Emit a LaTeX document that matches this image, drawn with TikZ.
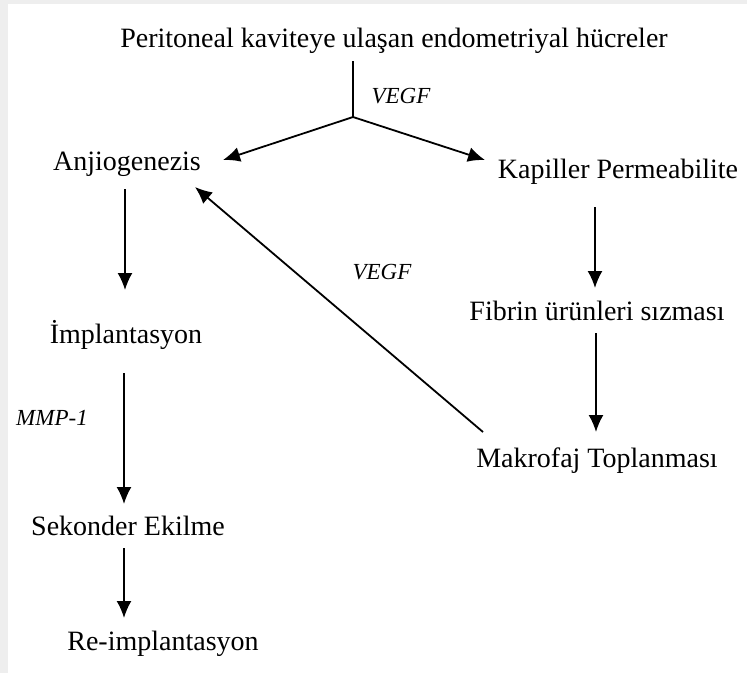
\documentclass[tikz,border=0pt]{standalone}
\usepackage{fontspec}
\setmainfont{Liberation Serif}
\usetikzlibrary{arrows.meta}
\definecolor{edgegray}{RGB}{238,238,238}
\begin{document}
\begin{tikzpicture}[x=1pt,y=-1pt,
  lbl/.style={anchor=base,inner sep=0pt,font=\fontsize{28}{32}\selectfont},
  ital/.style={anchor=base,inner sep=0pt,font=\fontsize{23}{27}\selectfont\itshape},
  arr/.style={line width=1.8pt,-{Latex[length=17pt,width=15pt]}},
  ln/.style={line width=1.8pt}]
\useasboundingbox[fill=white] (0,0) rectangle (747,673);
\fill[edgegray] (0,0) rectangle (8,673);
\fill[edgegray] (0,0) rectangle (747,4);
\node[lbl] (top) at (394,47) {Peritoneal kaviteye ulaşan endometriyal hücreler};
\node[lbl] (anj) at (127,170) {Anjiogenezis};
\node[lbl] (kap) at (618,178) {Kapiller Permeabilite};
\node[lbl] (imp) at (126,343) {İmplantasyon};
\node[lbl] (fib) at (597,320) {Fibrin ürünleri sızması};
\node[lbl] (mak) at (597,467) {Makrofaj Toplanması};
\node[lbl] (sek) at (128,535) {Sekonder Ekilme};
\node[lbl] (re) at (163,650) {Re-implantasyon};
\node[ital] (v1) at (401,103) {VEGF};
\node[ital] (v2) at (382,279) {VEGF};
\node[ital] (mmp) at (52,425) {MMP-1};
\coordinate (t0) at (353,61);
\coordinate (j) at (353,117);
\coordinate (aL) at (223,160);
\coordinate (aR) at (485,160);
\draw[ln] (t0) -- (j);
\draw[arr] (j) -- (aL);
\draw[arr] (j) -- (aR);
\coordinate (a1s) at (125,189); \coordinate (a1e) at (125,290);
\draw[arr] (a1s) -- (a1e);
\coordinate (a2s) at (124,373); \coordinate (a2e) at (124,504);
\draw[arr] (a2s) -- (a2e);
\coordinate (a3s) at (124,548); \coordinate (a3e) at (124,618);
\draw[arr] (a3s) -- (a3e);
\coordinate (b1s) at (595,207); \coordinate (b1e) at (595,288);
\draw[arr] (b1s) -- (b1e);
\coordinate (b2s) at (596,333); \coordinate (b2e) at (596,432);
\draw[arr] (b2s) -- (b2e);
\coordinate (cs) at (483,432); \coordinate (ce) at (195,187);
\draw[arr] (cs) -- (ce);
\end{tikzpicture}
\end{document}
